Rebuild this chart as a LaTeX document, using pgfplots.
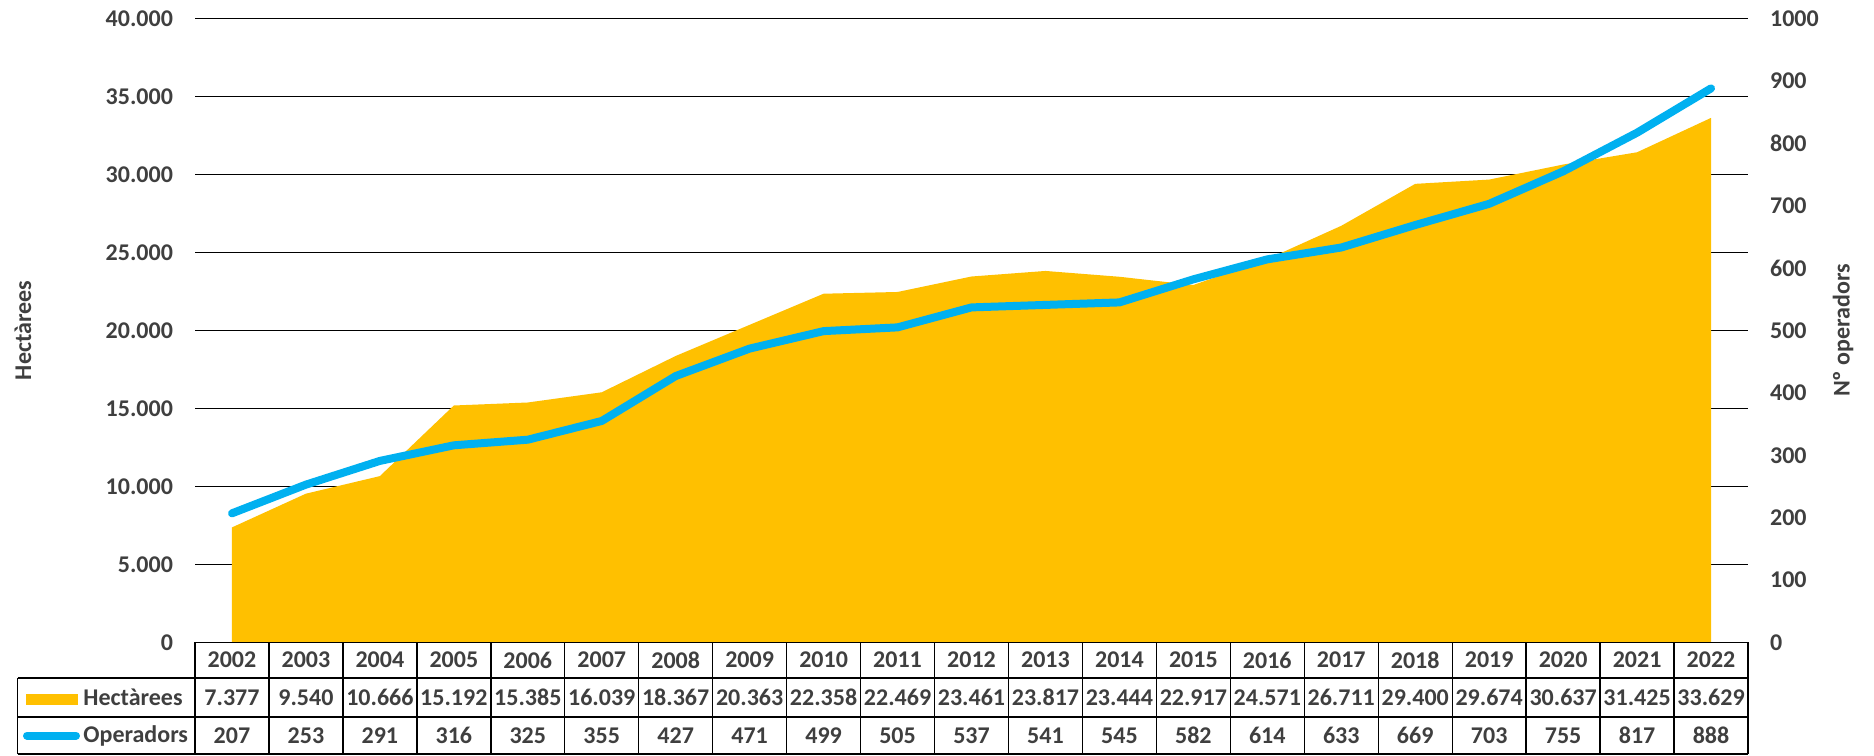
\documentclass[border=0pt]{standalone}
\usepackage{pgfplots}
\pgfplotsset{compat=1.18}
\usepackage{pgfplotstable}
\usepackage{fontspec}
\setmainfont{Carlito}
\definecolor{gold}{HTML}{FFC000}
\definecolor{sky}{HTML}{00B0F0}
\definecolor{txt}{HTML}{3F3F3F}
\newcommand{\tickfont}{\fontsize{12}{14.4}\selectfont\bfseries}

\pgfplotstableread{
x year ha ops
0 2002 7377 207
1 2003 9540 253
2 2004 10666 291
3 2005 15192 316
4 2006 15385 325
5 2007 16039 355
6 2008 18367 427
7 2009 20363 471
8 2010 22358 499
9 2011 22469 505
10 2012 23461 537
11 2013 23817 541
12 2014 23444 545
13 2015 22917 582
14 2016 24571 614
15 2017 26711 633
16 2018 29400 669
17 2019 29674 703
18 2020 30637 755
19 2021 31425 817
20 2022 33629 888
}\data

\begin{document}
\begin{tikzpicture}
\path[use as bounding box] (0,0) rectangle (937pt,377.5pt);
\begin{axis}[at={(97.5pt,56.25pt)}, anchor=south west, scale only axis,
  width=776.5pt, height=312pt,
  xmin=-0.5, xmax=20.5, ymin=0, ymax=40000,
  xtick=\empty, ytick={0,5000,...,40000}, scaled y ticks=false,
  ymajorgrids, grid style={black, line width=0.7pt},
  axis line style={draw=none}, major tick length=0pt,
  yticklabel style={font=\tickfont, text=txt, xshift=-7.5pt},
  /pgf/number format/.cd, fixed, 1000 sep={.}, assume math mode=true]
\addplot[fill=gold, draw=none] table[x=x, y=ha] {\data} \closedcycle;
\end{axis}
\begin{axis}[at={(97.5pt,56.25pt)}, anchor=south west, scale only axis,
  width=776.5pt, height=312pt,
  xmin=-0.5, xmax=20.5, ymin=0, ymax=1000,
  hide x axis, axis y line*=right, ytick={0,100,...,1000}, scaled y ticks=false,
  axis line style={draw=none}, major tick length=0pt,
  yticklabel style={font=\tickfont, text=txt, xshift=7.5pt},
  /pgf/number format/.cd, fixed, 1000 sep={}, assume math mode=true]
\addplot[color=sky, line width=4pt, line join=round, line cap=round] table[x=x, y=ops] {\data};
\end{axis}
% axis titles
\node[rotate=90, font=\tickfont, text=txt] at (11.5pt,212.25pt) {Hectàrees};
\node[rotate=90, font=\tickfont, text=txt] at (921.5pt,212.25pt) {Nº operadors};
% data table
\begin{scope}[line width=0.7pt]
\draw (97.5pt,56.25pt) -- (874pt,56.25pt);
\draw (8.75pt,38.5pt) -- (874pt,38.5pt);
\draw (8.75pt,19pt) -- (874pt,19pt);
\draw (8.75pt,0.5pt) -- (874pt,0.5pt);
\draw (8.75pt,0.5pt) -- (8.75pt,38.5pt);
\foreach \k in {0,...,21} {\draw ({97.5pt+36.976pt*\k},0.5pt) -- ({97.5pt+36.976pt*\k},56.25pt);}
\end{scope}
\fill[gold] (13pt,25pt) rectangle (39pt,30.35pt);
\draw[sky, line width=4pt, line cap=round] (13.5pt,9.65pt) -- (38pt,9.65pt);
\node[anchor=west, inner sep=0pt, font=\tickfont, text=txt] at (41.5pt,28.75pt) {Hectàrees};
\node[anchor=west, inner sep=0pt, font=\tickfont, text=txt] at (41.5pt,9.75pt) {Operadors};
\foreach \i/\yr/\h/\o in {0/2002/7.377/207, 1/2003/9.540/253, 2/2004/10.666/291, 3/2005/15.192/316, 4/2006/15.385/325, 5/2007/16.039/355, 6/2008/18.367/427, 7/2009/20.363/471, 8/2010/22.358/499, 9/2011/22.469/505, 10/2012/23.461/537, 11/2013/23.817/541, 12/2014/23.444/545, 13/2015/22.917/582, 14/2016/24.571/614, 15/2017/26.711/633, 16/2018/29.400/669, 17/2019/29.674/703, 18/2020/30.637/755, 19/2021/31.425/817, 20/2022/33.629/888} {
  \node[font=\tickfont, text=txt, inner sep=0pt] at ({97.5pt+36.976pt*(\i+0.5)},47.5pt) {\yr};
  \node[font=\tickfont, text=txt, inner sep=0pt] at ({97.5pt+36.976pt*(\i+0.5)},28.75pt) {\h};
  \node[font=\tickfont, text=txt, inner sep=0pt] at ({97.5pt+36.976pt*(\i+0.5)},9.75pt) {\o};
}
\end{tikzpicture}
\end{document}
